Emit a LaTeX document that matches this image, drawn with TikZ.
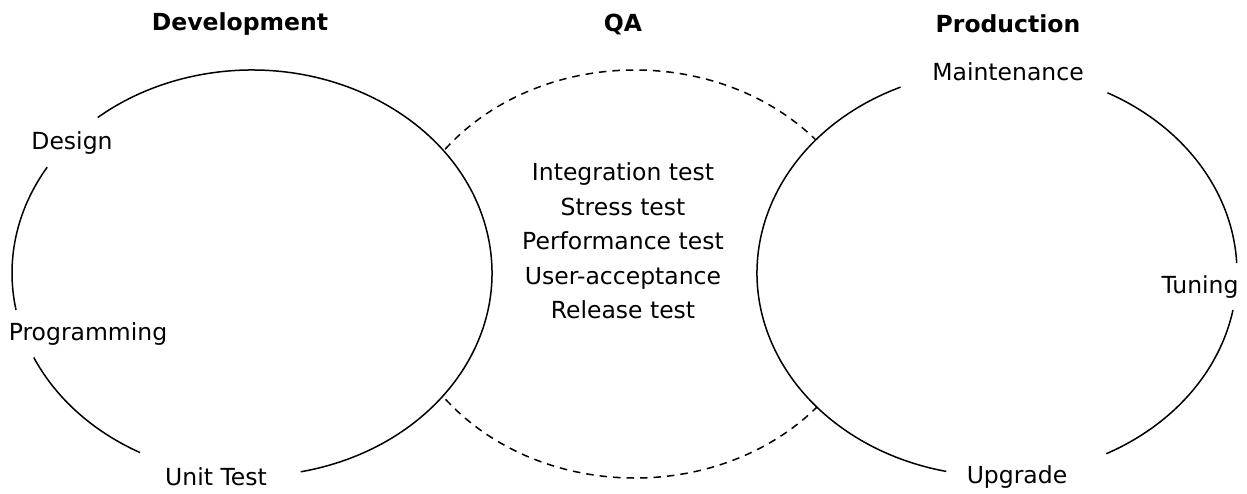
\documentclass[tikz,border=0pt]{standalone}
\usepackage{fontspec}
\setmainfont{DejaVu Sans}
\begin{document}
\begin{tikzpicture}[x=1pt,y=1pt,
  lbl/.style={inner sep=0pt,font=\fontsize{23.5}{34.5}\selectfont},
  head/.style={inner sep=0pt,font=\fontsize{23.5}{34.5}\selectfont\bfseries},
  ring/.style={line width=1.5pt,black},
  qaring/.style={line width=1.5pt,black,dash pattern=on 7.5pt off 6pt}]
\useasboundingbox (0,0) rectangle (1247,-493);
\coordinate (cL) at (252,-273);
\coordinate (cM) at (635,-274);
\coordinate (cR) at (997,-273);
% QA dashed ellipse, hidden where the other two stages overlap it
\draw[qaring] (cM) ellipse[x radius=240, y radius=204];
\fill[white] (cL) ellipse[x radius=240, y radius=203];
\fill[white] (cR) ellipse[x radius=240, y radius=203];
% Development ring (gaps at labels)
\draw[ring] (cL) ++(-78.3:240 and 203) arc[start angle=-78.3, end angle=130, x radius=240, y radius=203];
\draw[ring] (cL) ++(148.6:240 and 203) arc[start angle=148.6, end angle=190.5, x radius=240, y radius=203];
\draw[ring] (cL) ++(204.6:240 and 203) arc[start angle=204.6, end angle=242.2, x radius=240, y radius=203];
% Production ring (gaps at labels)
\draw[ring] (cR) ++(2.8:240 and 203) arc[start angle=2.8, end angle=62.6, x radius=240, y radius=203];
\draw[ring] (cR) ++(113.7:240 and 203) arc[start angle=113.7, end angle=257.8, x radius=240, y radius=203];
\draw[ring] (cR) ++(297.1:240 and 203) arc[start angle=297.1, end angle=349.5, x radius=240, y radius=203];
% headings
\node[head] (hdev) at (240,-24) {Development};
\node[head] (hqa) at (623,-24) {QA};
\node[head] (hprod) at (1008,-24) {Production};
% development labels
\node[lbl] (design) at (72,-143) {Design};
\node[lbl] (prog) at (88,-334) {Programming};
\node[lbl] (unit) at (216,-477) {Unit Test};
% QA labels
\node[lbl,align=center] (qa) at (623,-241) {Integration test\\Stress test\\Performance test\\User-acceptance\\Release test};
% production labels
\node[lbl] (maint) at (1008,-72) {Maintenance};
\node[lbl] (tune) at (1200,-287) {Tuning};
\node[lbl] (upg) at (1017,-477) {Upgrade};
\end{tikzpicture}
\end{document}
